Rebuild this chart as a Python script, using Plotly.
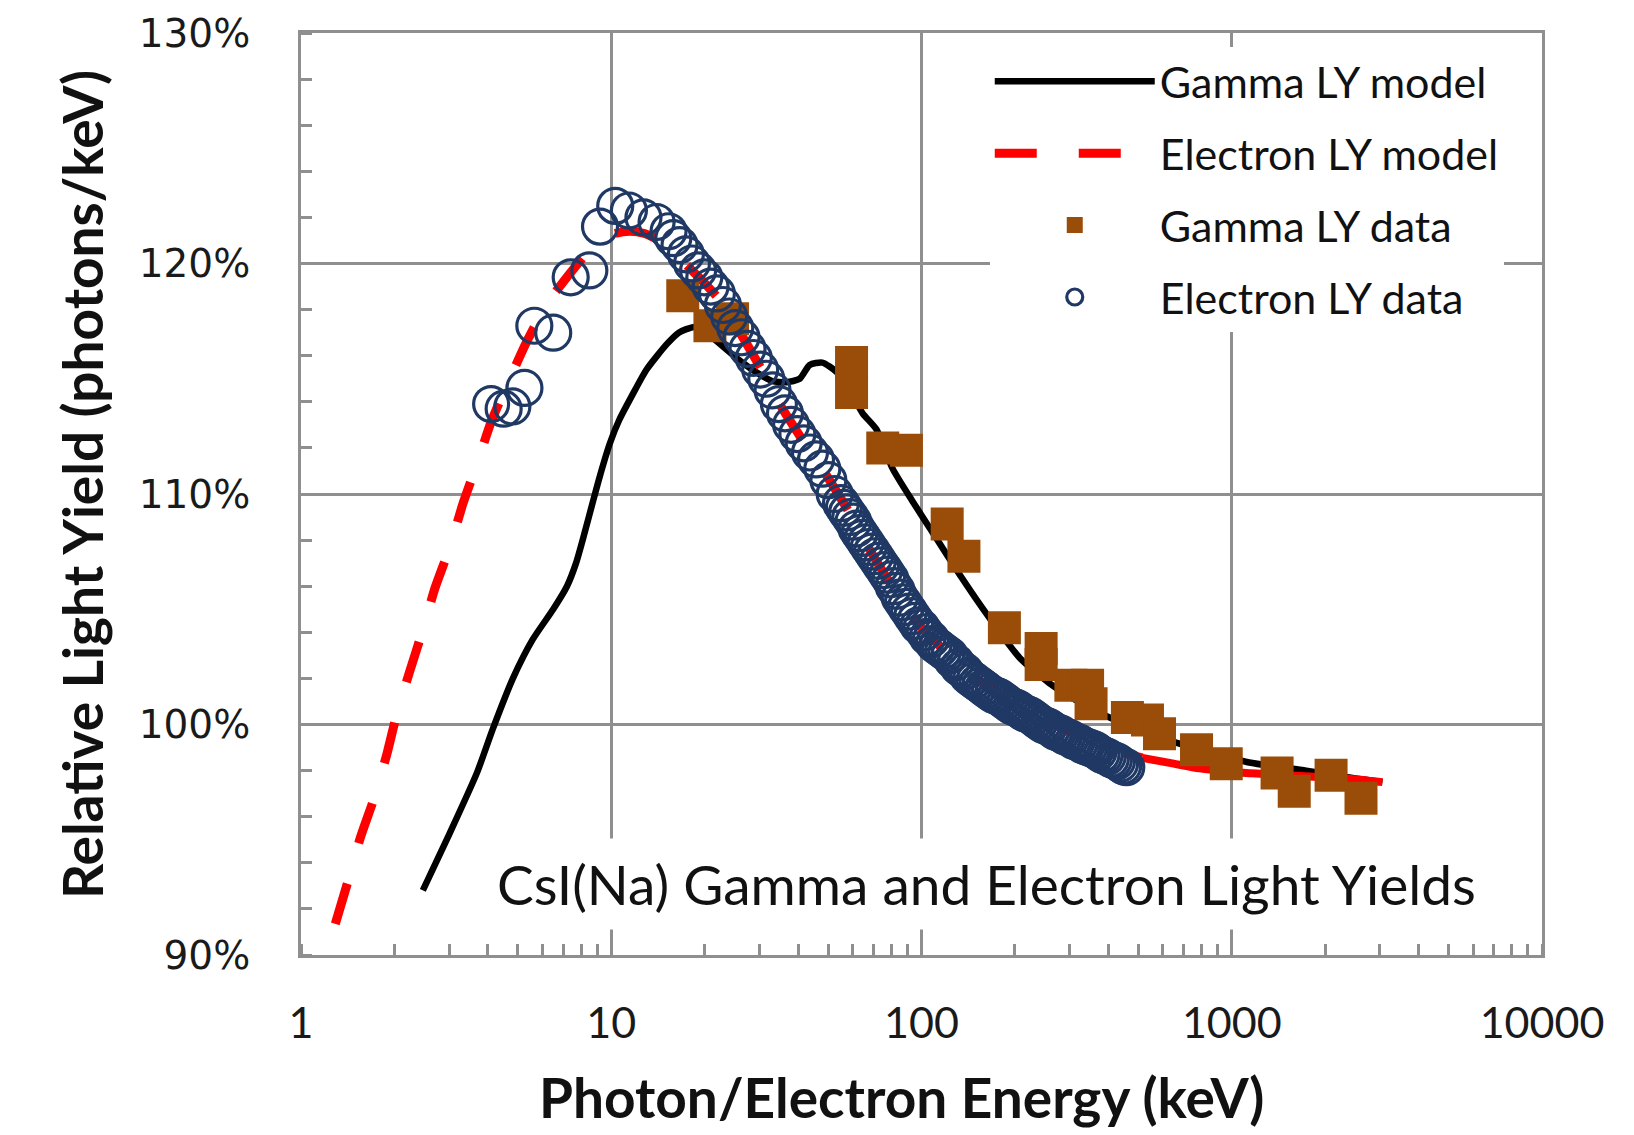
import plotly.graph_objects as go

# ---------------- data ----------------
GAMMA_MODEL_E = [2.47, 3.02, 3.69, 4.15, 4.82, 5.59, 6.5, 7.2, 7.7, 8.2, 8.7, 9.2, 9.9, 10.6,
                 11.7, 13.0, 15.1, 16.5, 18.5, 20.0, 22.0, 25.9, 30.0, 33.0, 36.7, 40.5, 43.6,
                 47.9, 53.2, 58.0, 64.6, 71.6, 80.7, 93.4, 106, 132, 166, 207, 258, 330, 424,
                 629, 800, 1138, 1738, 2390, 3060]
GAMMA_MODEL_Y = [92.8, 95.3, 97.9, 99.8, 102.0, 103.7, 105.0, 106.0, 107.0, 108.3, 109.6, 110.8,
                 112.2, 113.2, 114.3, 115.4, 116.5, 117.0, 117.25, 117.1, 116.6, 115.8, 115.2,
                 114.9, 114.85, 115.0, 115.6, 115.7, 115.3, 114.6, 113.5, 112.8, 111.1, 109.7,
                 108.55, 106.55, 104.6, 102.9, 101.8, 100.9, 100.17, 99.3, 98.9, 98.35, 98.0,
                 97.7, 97.5]

ELECTRON_MODEL_E = [1.29, 1.41, 1.55, 1.73, 1.89, 2.04, 2.24, 2.47, 2.7, 3.02, 3.33, 3.69, 4.12,
                    4.71, 5.38, 6.24, 7.0, 7.7, 8.4, 9.2, 10.3, 11.5, 12.8, 14.3, 15.6, 17.0,
                    19.5, 22.4, 26.0, 30.8, 34.9, 42.0, 49.4, 57.3, 70, 85, 100, 123, 150, 178,
                    210, 258, 300, 350, 400, 450, 515, 650, 786, 1000, 1200, 1600, 2000, 2390,
                    3060]
ELECTRON_MODEL_Y = [91.35, 93.1, 95.05, 96.9, 98.7, 100.5, 102.3, 104.1, 105.9, 107.7, 109.6,
                    111.3, 113.2, 115.0, 116.7, 118.3, 119.2, 119.9, 120.5, 121.0, 121.3, 121.4,
                    121.3, 121.0, 120.7, 120.1, 119.3, 118.4, 117.0, 115.3, 113.9, 112.2, 110.8,
                    109.4, 107.3, 105.5, 104.2, 103.0, 102.0, 101.3, 100.7, 100.1, 99.7, 99.3,
                    99.0, 98.75, 98.55, 98.3, 98.1, 97.95, 97.87, 97.78, 97.7, 97.65, 97.5]
ELECTRON_MODEL_SOLID_FROM = 515  # keV, beyond the electron data the model is drawn solid

GAMMA_DATA_E = [17.0, 20.8, 24.6, 59.5, 59.5, 75, 89.4, 121, 137, 185, 243, 243, 303, 343, 352,
                461, 535, 585, 770, 960, 1400, 1590, 2090, 2610]
GAMMA_DATA_Y = [118.6, 117.3, 117.6, 115.7, 114.4, 112.0, 111.9, 108.7, 107.3, 104.2, 103.3,
                102.6, 101.7, 101.7, 100.9, 100.3, 100.2, 99.6, 98.9, 98.3, 97.9, 97.1, 97.8,
                96.8]

ELECTRON_DATA_E = [4.1, 4.5, 4.8, 5.25, 5.65, 6.5, 7.4, 8.5, 9.2, 10.3, 11.4, 12.7, 14.0, 15.3,
                   15.85, 16.6, 17.4, 18.2, 19.05, 19.95, 20.9, 21.9, 22.9, 24.0, 25.1, 26.3,
                   27.5, 28.8, 30.2, 31.6, 33.1, 34.7, 36.3, 38.0, 39.8, 41.7, 43.7, 45.7, 47.9,
                   50.1, 52.5, 55.0,
                   56.2, 57.5, 58.9, 60.3, 61.7, 63.1, 64.6, 66.1, 67.6, 69.2,
                   70.8, 72.4, 74.1, 75.9, 77.6, 79.4, 81.3, 83.2, 85.1, 87.1,
                   89.1, 91.2, 93.3, 95.5, 97.7, 100, 102.3, 104.7, 107.2, 109.6,
                   112.2, 114.8, 117.5, 120.2, 123.0, 125.9, 128.8, 131.8, 134.9, 138.0,
                   141.3, 144.5, 147.9, 151.4, 154.9, 158.5, 162.2, 166.0, 169.8, 173.8,
                   177.8, 182.0, 186.2, 190.5, 195.0, 199.5, 204.2, 208.9, 213.8, 218.8,
                   223.9, 229.1, 234.4, 239.9, 245.5, 251.2, 257.0, 263.0, 269.2, 275.4,
                   281.8, 288.4, 295.1, 302.0, 309.0, 316.2, 323.6, 331.1, 338.8, 346.7,
                   354.8, 363.1, 371.5, 380.2, 389.0, 398.1, 407.4, 416.9, 426.6, 436.5,
                   446.7, 457.1]
ELECTRON_DATA_Y = [113.9, 113.7, 113.8, 114.6, 117.3, 117.0, 119.4, 119.7, 121.6, 122.5, 122.3,
                   122.0, 121.8, 121.4,
                   121.1, 120.8, 120.4, 120.0, 119.7, 119.4, 119.0, 118.7, 118.2, 117.7, 117.2,
                   116.8, 116.3, 115.9, 115.4, 115.0, 114.5, 113.9, 113.5, 113.0, 112.6, 112.2,
                   111.8, 111.5, 111.1, 110.6, 110.0, 109.6,
                   109.4, 109.2, 109.0, 108.8, 108.5, 108.3, 108.1, 107.9, 107.7, 107.5,
                   107.3, 107.1, 106.9, 106.7, 106.5, 106.3, 106.0, 105.8, 105.5, 105.3,
                   105.1, 104.9, 104.7, 104.5, 104.3, 104.2, 104.0, 103.8, 103.7, 103.5,
                   103.4, 103.3, 103.2, 103.1, 103.0, 102.8, 102.7, 102.5, 102.4, 102.3,
                   102.1, 102.0, 101.9, 101.8, 101.7, 101.6, 101.5, 101.4, 101.3, 101.25,
                   101.2, 101.1, 101.0, 100.9, 100.8, 100.75, 100.7, 100.6, 100.5, 100.45,
                   100.4, 100.3, 100.2, 100.1, 100.0, 99.95, 99.9, 99.8, 99.7, 99.65,
                   99.6, 99.5, 99.45, 99.4, 99.3, 99.25, 99.2, 99.1, 99.05, 99.0,
                   98.95, 98.9, 98.8, 98.7, 98.65, 98.6, 98.5, 98.45, 98.4, 98.3,
                   98.2, 98.15]

Y_TICKS = [90, 100, 110, 120, 130]
Y_TICK_LABELS = ["90%", "100%", "110%", "120%", "130%"]
X_TICKS = [1, 10, 100, 1000, 10000]
X_TICK_LABELS = ["1", "10", "100", "1000", "10000"]

LEGEND_NAMES = ["Gamma LY model", "Electron LY model", "Gamma LY data", "Electron LY data"]
X_TITLE = "Photon/Electron Energy (keV)"
Y_TITLE = "Relative Light Yield (photons/keV)"
NOTE = "CsI(Na) Gamma and Electron Light Yields"

assert len(ELECTRON_DATA_E) == len(ELECTRON_DATA_Y)
assert len(GAMMA_DATA_E) == len(GAMMA_DATA_Y)
assert len(GAMMA_MODEL_E) == len(GAMMA_MODEL_Y)
assert len(ELECTRON_MODEL_E) == len(ELECTRON_MODEL_Y)

# ---------------- styles ----------------
GRID = "#8f8f8f"
BROWN = "#9a4d08"
NAVY = "#1f3864"
RED = "#ff0000"
TXT_FONT = "Lato, 'Open Sans', sans-serif"

dashed = [(e, y) for e, y in zip(ELECTRON_MODEL_E, ELECTRON_MODEL_Y) if e <= ELECTRON_MODEL_SOLID_FROM]
solid = [(e, y) for e, y in zip(ELECTRON_MODEL_E, ELECTRON_MODEL_Y) if e >= ELECTRON_MODEL_SOLID_FROM]

fig = go.Figure()
fig.add_trace(go.Scatter(
    x=GAMMA_MODEL_E, y=GAMMA_MODEL_Y, mode="lines", name=LEGEND_NAMES[0],
    line=dict(color="black", width=6.5, shape="spline", smoothing=0.6),
    legendrank=1, legendgroup="g1"))
fig.add_trace(go.Scatter(
    x=[p[0] for p in dashed], y=[p[1] for p in dashed], mode="lines", name=LEGEND_NAMES[1],
    line=dict(color=RED, width=9, dash="42px,42px", shape="spline", smoothing=0.6),
    legendrank=2, legendgroup="g2"))
fig.add_trace(go.Scatter(
    x=[p[0] for p in solid], y=[p[1] for p in solid], mode="lines", showlegend=False,
    line=dict(color=RED, width=8, shape="spline", smoothing=0.6), legendgroup="g2"))
fig.add_trace(go.Scatter(
    x=GAMMA_DATA_E, y=GAMMA_DATA_Y, mode="markers", name=LEGEND_NAMES[2],
    marker=dict(symbol="square", size=33, color=BROWN, line=dict(width=0)),
    legendrank=3, legendgroup="g3"))
fig.add_trace(go.Scatter(
    x=ELECTRON_DATA_E, y=ELECTRON_DATA_Y, mode="markers", name=LEGEND_NAMES[3],
    marker=dict(symbol="circle-open", size=35, color=NAVY, line=dict(width=3.2, color=NAVY)),
    legendrank=4, legendgroup="g4"))

# chart note with white background (breaks the gridlines like the original)
fig.add_annotation(
    x=0.5526, y=0.077, xref="paper", yref="paper", text=NOTE, showarrow=False,
    font=dict(family=TXT_FONT, size=55, color="#111111"),
    bgcolor="white", borderpad=12, xanchor="center", yanchor="middle")
# axis titles as annotations for exact placement
fig.add_annotation(
    x=0.4835, y=-0.1545, xref="paper", yref="paper", text="<b>" + X_TITLE + "</b>",
    showarrow=False, font=dict(family=TXT_FONT, size=55, color="#111111"),
    xanchor="center", yanchor="middle")
fig.add_annotation(
    x=-0.177, y=0.5102, xref="paper", yref="paper", text="<b>" + Y_TITLE + "</b>",
    showarrow=False, textangle=-90, font=dict(family=TXT_FONT, size=55, color="#111111"),
    xanchor="center", yanchor="middle")

fig.update_layout(
    width=1634, height=1135,
    margin=dict(l=301, r=92, t=33, b=180),
    paper_bgcolor="white", plot_bgcolor="white",
    showlegend=True,
    legend=dict(x=0.555, y=0.985, xanchor="left", yanchor="top",
                bgcolor="white", borderwidth=0,
                font=dict(family=TXT_FONT, size=43, color="#111111"),
                tracegroupgap=13, itemwidth=160),
)

fig.update_xaxes(
    type="log", range=[0, 4], tickvals=X_TICKS, ticktext=X_TICK_LABELS,
    showgrid=True, gridcolor=GRID, gridwidth=3,
    showline=True, linecolor=GRID, linewidth=3, mirror=True,
    ticks="", ticklabelstandoff=28, automargin=False,
    tickfont=dict(family=TXT_FONT, size=43, color="#1a1a1a"),
    minor=dict(ticks="inside", ticklen=11, tickwidth=2.5, tickcolor=GRID, dtick="D1", showgrid=False),
    zeroline=False)

fig.update_yaxes(
    range=[90, 130], tickvals=Y_TICKS, ticktext=Y_TICK_LABELS,
    showgrid=True, gridcolor=GRID, gridwidth=3,
    showline=True, linecolor=GRID, linewidth=3, mirror=True,
    ticks="", ticklabelstandoff=40, automargin=False,
    tickfont=dict(family="'DejaVu Sans', Verdana, sans-serif", size=39, color="#1a1a1a"),
    minor=dict(ticks="inside", ticklen=11, tickwidth=2.5, tickcolor=GRID, dtick=2, showgrid=False),
    zeroline=False)

fig.write_html("out.html")
